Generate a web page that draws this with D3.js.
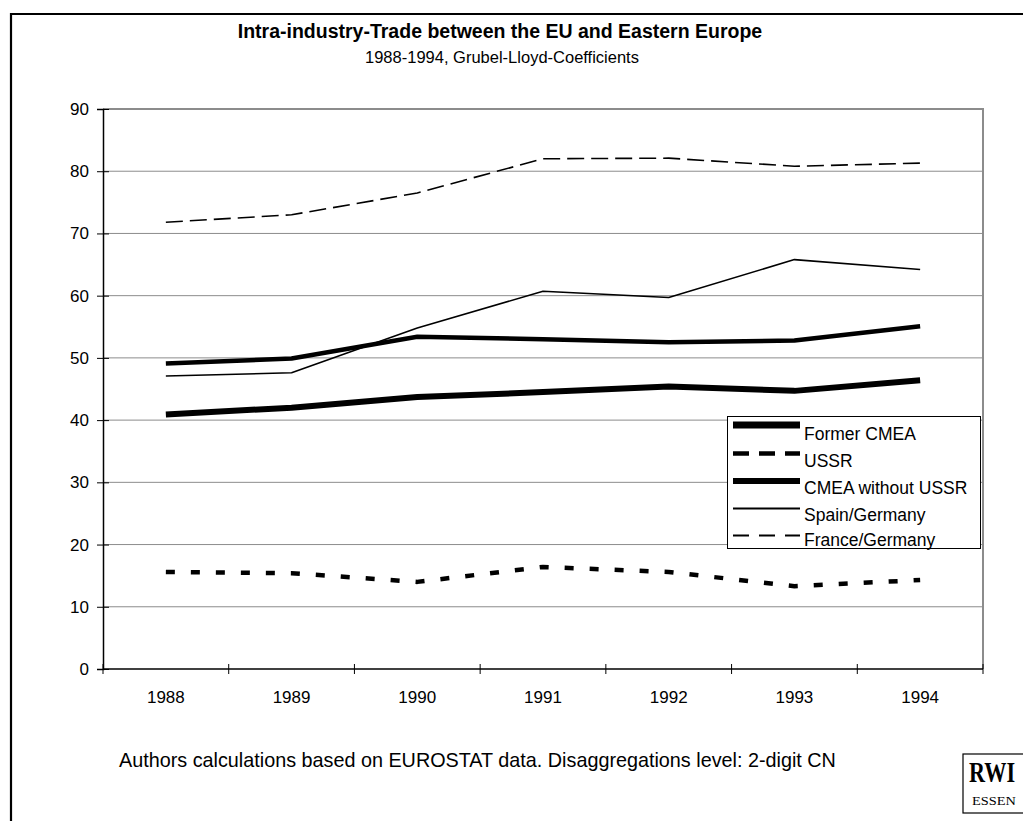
<!DOCTYPE html>
<html>
<head>
<meta charset="utf-8">
<script src="https://cdn.jsdelivr.net/npm/d3@7"></script>
<style>
  html, body { margin: 0; padding: 0; background: #fff; }
  svg { display: block; font-family: "Liberation Sans", Arial, sans-serif; }
</style>
</head>
<body>
<svg id="chart" width="1023" height="821"></svg>
<script>
// ---- data ----
const years = ["1988", "1989", "1990", "1991", "1992", "1993", "1994"];
const formerCMEA   = [40.9, 42.0, 43.7, 44.5, 45.4, 44.7, 46.4];
const ussr         = [15.6, 15.4, 14.0, 16.4, 15.6, 13.3, 14.3];
const cmeaNoUSSR   = [49.1, 49.9, 53.4, 53.0, 52.5, 52.8, 55.1];
const spainGermany = [47.1, 47.6, 54.8, 60.7, 59.7, 65.8, 64.2];
const franceGermany= [71.8, 73.0, 76.5, 82.0, 82.1, 80.8, 81.3];
const seriesNames  = ["Former CMEA", "USSR", "CMEA without USSR", "Spain/Germany", "France/Germany"];
const yTicks = [0, 10, 20, 30, 40, 50, 60, 70, 80, 90];

const title = "Intra-industry-Trade between the EU and Eastern Europe";
const subtitle = "1988-1994, Grubel-Lloyd-Coefficients";
const footnote = "Authors calculations based on EUROSTAT data. Disaggregations level: 2-digit CN";

// ---- styles ----
const styles = [
  { width: 6,   dash: null,   legendWidth: 7,   legendDash: null },
  { width: 4.5, dash: "9,16", legendWidth: 4.5, legendDash: "16,10" },
  { width: 4.5, dash: null,   legendWidth: 6,   legendDash: null },
  { width: 1.6, dash: null,   legendWidth: 1.8, legendDash: null },
  { width: 1.6, dash: "17,7", legendWidth: 2,   legendDash: "16,10" }
];
const allSeries = [formerCMEA, ussr, cmeaNoUSSR, spainGermany, franceGermany];

const svg = d3.select("#chart");

// outer frame (extends beyond right/bottom edge)
svg.append("path")
  .attr("d", "M1023,14 L11,14 L11,821")
  .attr("fill", "none").attr("stroke", "#000").attr("stroke-width", 2.2);

// titles
svg.append("text").attr("x", 500).attr("y", 38).attr("text-anchor", "middle")
  .attr("font-size", 19.5).attr("font-weight", "bold").text(title);
svg.append("text").attr("x", 502).attr("y", 63).attr("text-anchor", "middle")
  .attr("font-size", 16.5).text(subtitle);

// plot geometry
const pLeft = 103, pRight = 983, pTop = 109, pBottom = 669;
const x = d3.scaleBand().domain(years).range([pLeft, pRight]);
const y = d3.scaleLinear().domain([0, 90]).range([pBottom, pTop]);

// gridlines
svg.append("g").selectAll("line").data(yTicks.filter(d => d > 0 && d < 90)).join("line")
  .attr("x1", pLeft).attr("x2", pRight)
  .attr("y1", d => y(d)).attr("y2", d => y(d))
  .attr("stroke", "#8c8c8c").attr("stroke-width", 1);

// plot frame top/right (gray)
svg.append("path")
  .attr("d", `M${pLeft},${y(90)} L${pRight},${y(90)} L${pRight},${pBottom}`)
  .attr("fill", "none").attr("stroke", "#8c8c8c").attr("stroke-width", 2);

// y axis
const yAxis = d3.axisLeft(y).tickValues(yTicks).tickSize(6).tickPadding(8);
const gy = svg.append("g").attr("transform", `translate(${pLeft},0)`).call(yAxis);
gy.select(".domain").attr("stroke", "#000").attr("stroke-width", 1.5);
gy.selectAll(".tick line").attr("x2", -6).attr("x1", 6).attr("stroke", "#000");
gy.selectAll("text").attr("font-size", 17).attr("font-family", "Liberation Sans, Arial, sans-serif").attr("fill", "#000");

// x axis: ticks between categories
const gx = svg.append("g").attr("transform", `translate(0,${pBottom})`);
gx.append("line").attr("x1", pLeft).attr("x2", pRight).attr("y1", 0).attr("y2", 0)
  .attr("stroke", "#000").attr("stroke-width", 1.5);
const boundaries = years.map(d => x(d)).concat([x(years[years.length - 1]) + x.bandwidth()]);
gx.selectAll("line.tk").data(boundaries).join("line").attr("class", "tk")
  .attr("x1", d => d).attr("x2", d => d).attr("y1", -5).attr("y2", 5)
  .attr("stroke", "#000").attr("stroke-width", 1);
gx.selectAll("text").data(years).join("text")
  .attr("x", d => x(d) + x.bandwidth() / 2).attr("y", 34)
  .attr("text-anchor", "middle").attr("font-size", 17).text(d => d);

// lines
const line = d3.line()
  .x((d, i) => x(years[i]) + x.bandwidth() / 2)
  .y(d => y(d));
const order = [4, 3, 2, 0, 1];
order.forEach(k => {
  svg.append("path").datum(allSeries[k])
    .attr("d", line)
    .attr("fill", "none").attr("stroke", "#000")
    .attr("stroke-width", styles[k].width)
    .attr("stroke-linejoin", "round")
    .attr("stroke-dasharray", styles[k].dash);
});

// legend
const lg = svg.append("g");
lg.append("rect").attr("x", 727.5).attr("y", 416.5).attr("width", 253).attr("height", 132)
  .attr("fill", "#fff").attr("stroke", "#000").attr("stroke-width", 1);
const legendLineY = [425, 453.5, 481, 508.5, 535.5];
const legendTextY = [440, 467, 494, 521, 546];
seriesNames.forEach((name, i) => {
  lg.append("line").attr("x1", 733).attr("x2", 800)
    .attr("y1", legendLineY[i]).attr("y2", legendLineY[i])
    .attr("stroke", "#000").attr("stroke-width", styles[i].legendWidth)
    .attr("stroke-dasharray", styles[i].legendDash);
  lg.append("text").attr("x", 804).attr("y", legendTextY[i])
    .attr("font-size", 17.5).text(name);
});

// footnote
svg.append("text").attr("x", 119).attr("y", 767).attr("font-size", 19.8).text(footnote);

// RWI logo
const logo = svg.append("g");
logo.append("rect").attr("x", 963).attr("y", 754).attr("width", 70).attr("height", 59)
  .attr("fill", "#fff").attr("stroke", "#000").attr("stroke-width", 1.2);
logo.append("text").attr("transform", "translate(969,782) scale(0.74,1)")
  .attr("font-family", "Liberation Serif, Times New Roman, serif")
  .attr("font-weight", "bold").attr("font-size", 30).text("RWI");
logo.append("text").attr("transform", "translate(972,805) scale(1.25,1)")
  .attr("font-family", "Liberation Serif, Times New Roman, serif")
  .attr("font-size", 11.5).text("ESSEN");
</script>
</body>
</html>
